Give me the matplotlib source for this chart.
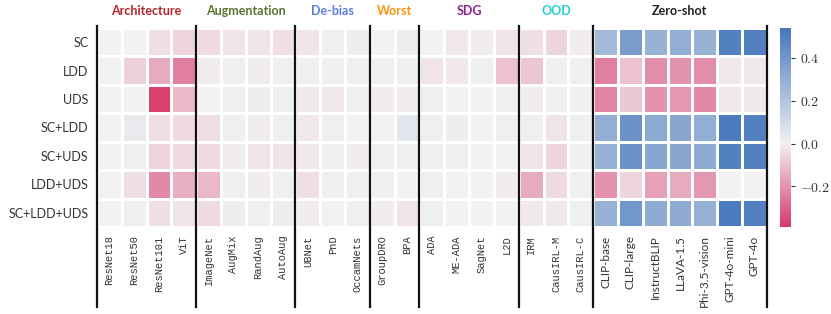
import numpy as np
import matplotlib
matplotlib.use('Agg')
import matplotlib.pyplot as plt
from matplotlib.colors import LinearSegmentedColormap, Normalize

plt.rcParams['font.family'] = ['Lato', 'DejaVu Sans']
plt.rcParams['mathtext.fontset'] = 'cm'

rows = ['SC', 'LDD', 'UDS', 'SC+LDD', 'SC+UDS', 'LDD+UDS', 'SC+LDD+UDS']
methods = ['ResNet18', 'ResNet50', 'ResNet101', 'ViT',
           'ImageNet', 'AugMix', 'RandAug', 'AutoAug',
           'UBNet', 'PnD', 'OccamNets',
           'GroupDRO', 'BPA',
           'ADA', 'ME-ADA', 'SagNet', 'L2D',
           'IRM', 'CausIRL-M', 'CausIRL-C',
           'CLIP-base', 'CLIP-large', 'InstructBLIP', 'LLaVA-1.5',
           'Phi-3.5-vision', 'GPT-4o-mini', 'GPT-4o']
groups = ['Architecture', 'Augmentation', 'De-bias', 'Worst', 'SDG', 'OOD', 'Zero-shot']
group_sizes = [4, 4, 3, 2, 4, 3, 7]
group_colors = ['#b3262b', '#5a7431', '#5c7fe0', '#ff9410', '#901e90', '#20d0d4', '#222222']

sc = [0.0, 0.0, -0.04, -0.06, -0.05, -0.03, -0.03, -0.04, -0.03, 0.01, 0.02,
      0.0, 0.02, 0.0, -0.02, -0.01, -0.03, -0.04, -0.06, -0.01,
      0.25, 0.38, 0.28, 0.30, 0.28, 0.50, 0.50]
ldd = [0.0, -0.07, -0.15, -0.24, -0.01, 0.01, -0.01, 0.01, 0.01, 0.01, 0.01,
       0.01, 0.01, -0.03, -0.02, 0.01, -0.10, -0.09, 0.01, 0.01,
       -0.24, -0.10, -0.21, -0.20, -0.21, -0.02, -0.02]
uds = [0.0, 0.0, -0.37, -0.12, 0.0, 0.01, 0.02, 0.01, -0.02, -0.02, 0.01,
       -0.01, -0.01, 0.01, 0.0, 0.0, 0.01, -0.01, 0.01, 0.01,
       -0.23, -0.09, -0.20, -0.19, -0.22, -0.02, -0.02]
sc_ldd = [0.0, 0.03, -0.04, -0.05, -0.04, 0.01, -0.01, 0.01, -0.02, 0.01, 0.0,
          0.0, 0.05, 0.01, 0.02, 0.0, 0.01, 0.01, -0.03, 0.01,
          0.30, 0.42, 0.32, 0.33, 0.30, 0.52, 0.50]
sc_uds = [0.0, 0.01, -0.06, -0.05, -0.05, -0.01, -0.03, -0.03, -0.02, 0.01, -0.01,
          0.01, 0.01, 0.01, 0.01, 0.0, 0.0, -0.03, -0.06, 0.01,
          0.28, 0.42, 0.33, 0.33, 0.31, 0.50, 0.50]
ldd_uds = [0.0, -0.04, -0.22, -0.14, -0.12, 0.01, -0.01, 0.01, -0.04, 0.01, 0.01,
           0.01, 0.0, 0.01, 0.0, 0.0, -0.01, -0.15, -0.05, 0.01,
           -0.20, -0.06, -0.17, -0.15, -0.19, 0.0, 0.0]
all3 = [0.0, 0.01, -0.04, -0.03, -0.05, 0.02, 0.01, 0.02, -0.01, 0.0, 0.01,
        -0.01, -0.03, 0.01, 0.0, 0.0, 0.0, -0.02, -0.02, 0.01,
        0.28, 0.40, 0.31, 0.31, 0.29, 0.52, 0.50]

data = np.array([sc, ldd, uds, sc_ldd, sc_uds, ldd_uds, all3])

vmin, vmax = -0.39, 0.54
mid = -vmin / (vmax - vmin)
cmap = LinearSegmentedColormap.from_list(
    'div', [(0.0, '#d6396a'), (mid, '#f2f2f2'), (1.0, '#4677bd')])
norm = Normalize(vmin=vmin, vmax=vmax)

fig = plt.figure(figsize=(8.31, 3.14), dpi=100)
ax = fig.add_axes([0.1167, 0.277, 0.806, 0.634])
cax = fig.add_axes([0.9386, 0.277, 0.013, 0.634])

mesh = ax.pcolormesh(data, cmap=cmap, norm=norm, edgecolors='white', linewidth=1.0)
ax.set_xlim(0, len(methods))
ax.set_ylim(len(rows), 0)
for s in ax.spines.values():
    s.set_visible(False)

ax.set_yticks(np.arange(len(rows)) + 0.5)
ax.set_yticklabels(rows, fontsize=9, color='#333333')
ax.set_xticks(np.arange(len(methods)) + 0.5)
ax.set_xticklabels(methods, rotation=90)
ax.tick_params(length=0, pad=6)
for i, lab in enumerate(ax.get_xticklabels()):
    if i < 20:
        lab.set_fontfamily('Liberation Mono')
        lab.set_fontsize(7.5)
    else:
        lab.set_fontsize(8.5)
    lab.set_color('#333333')

bounds = np.concatenate([[0], np.cumsum(group_sizes)])
for b in bounds:
    ax.axvline(b, ymin=-0.40, ymax=1.01, color='#111111', lw=1.6, clip_on=False)
for g, c, a, b in zip(groups, group_colors, bounds[:-1], bounds[1:]):
    ax.text((a + b) / 2, -0.38, g, ha='center', va='bottom', fontsize=9,
            fontweight='bold', color=c)

cb = fig.colorbar(mesh, cax=cax)
cb.outline.set_visible(False)
cb.set_ticks([-0.2, 0.0, 0.2, 0.4])
cb.set_ticklabels([r'$-0.2$', r'$0.0$', r'$0.2$', r'$0.4$'])
cax.tick_params(labelsize=10, length=3, width=0.8, colors='#333333')

fig.savefig('out.png', dpi=100)
